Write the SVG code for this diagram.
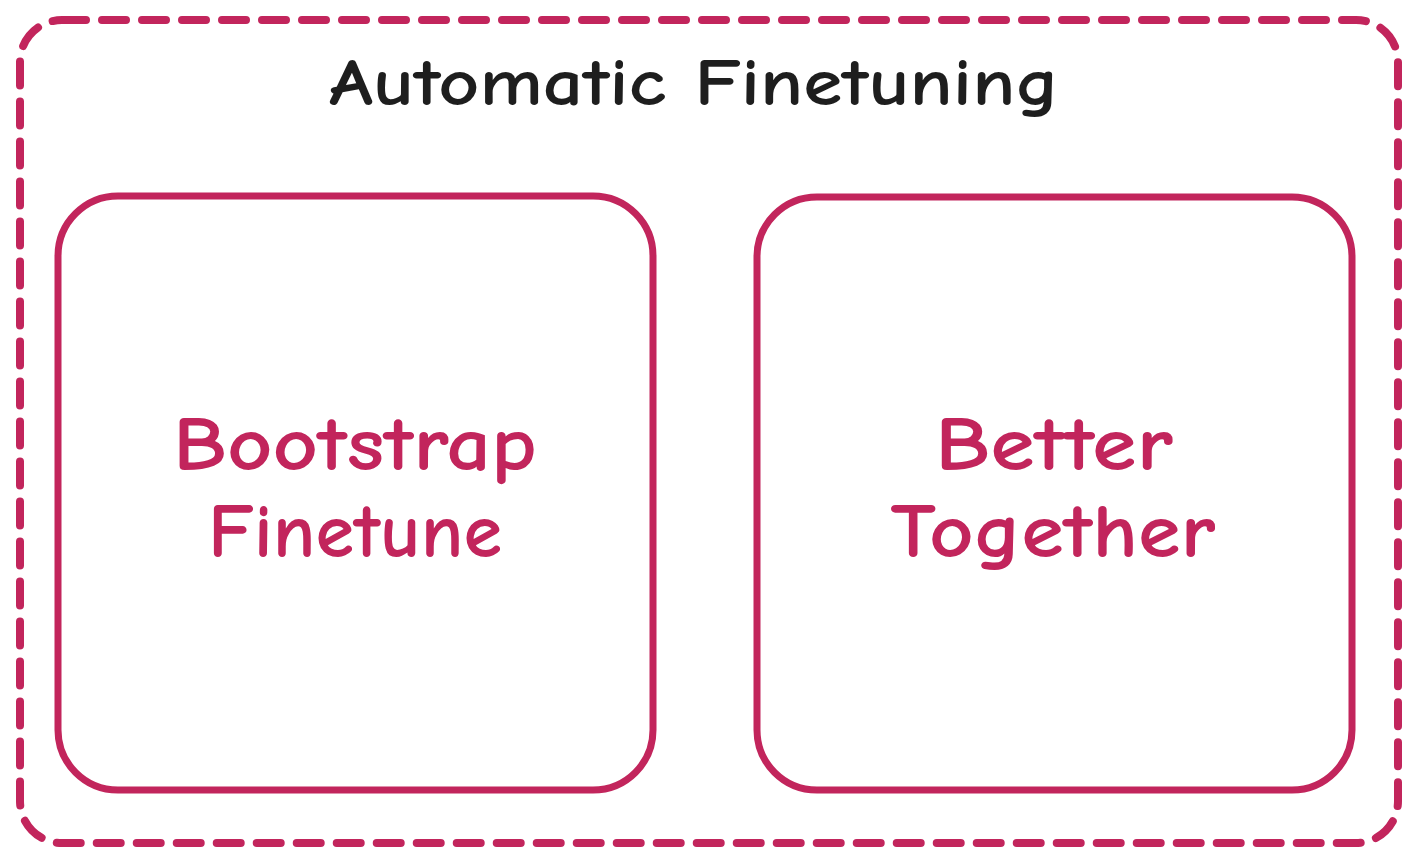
<svg xmlns="http://www.w3.org/2000/svg" width="1419" height="864" viewBox="0 0 1419 864">
<style>
.frame{fill:none;stroke:#c2255c;stroke-width:8;stroke-linecap:round;stroke-dasharray:24 16}
.box{fill:none;stroke:#c2255c;stroke-width:7;stroke-linecap:round;stroke-linejoin:round}
.title{font-family:"Comic Neue","Liberation Sans",sans-serif;font-size:66px;font-weight:bold;fill:#1e1e1e;text-anchor:middle}
.lbl{font-family:"Comic Neue","Liberation Sans",sans-serif;font-size:76px;font-weight:bold;fill:#c2255c;text-anchor:middle}
</style>
<rect width="1419" height="864" fill="#ffffff"/>
<g id="automatic-finetuning">
<rect class="frame" x="20" y="20" width="1378" height="823" rx="42" ry="42"/>
<text class="title" x="694" y="105" textLength="730" lengthAdjust="spacingAndGlyphs">Automatic Finetuning</text>
</g>
<g id="bootstrap-finetune">
<rect class="box" x="58" y="196" width="595" height="594" rx="60" ry="60"/>
<text class="lbl" x="355" y="470" textLength="364" lengthAdjust="spacingAndGlyphs">Bootstrap</text>
<text class="lbl" x="355" y="557" textLength="294" lengthAdjust="spacingAndGlyphs">Finetune</text>
</g>
<g id="better-together">
<rect class="box" x="757" y="197" width="595" height="593" rx="60" ry="60"/>
<text class="lbl" x="1054" y="470" textLength="238" lengthAdjust="spacingAndGlyphs">Better</text>
<text class="lbl" x="1053" y="557" textLength="325" lengthAdjust="spacingAndGlyphs">Together</text>
</g>
<g id="connectors"></g>
</svg>
